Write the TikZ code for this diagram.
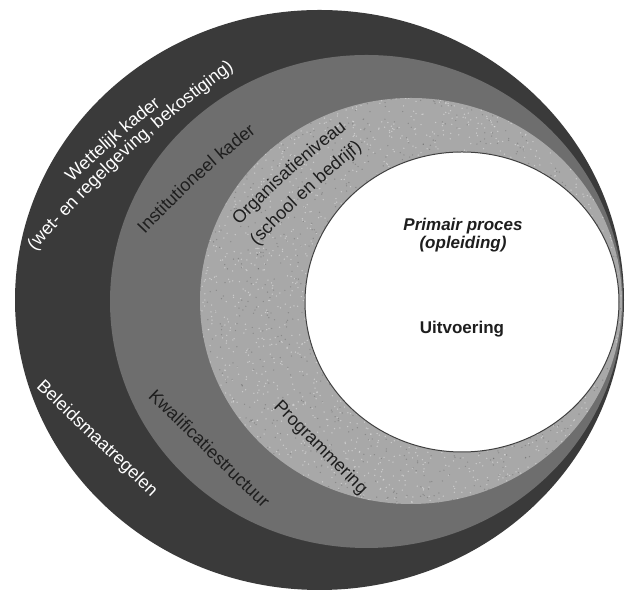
\documentclass[tikz,border=0pt]{standalone}
\usepackage{fontspec}
\setmainfont{Liberation Sans}
\usetikzlibrary{decorations.text}
\definecolor{darkband}{RGB}{58,58,58}
\definecolor{midband}{RGB}{110,110,110}
\definecolor{lightband}{RGB}{168,168,168}
\definecolor{inktext}{RGB}{30,30,30}
\newcommand\bandfont{\fontsize{18}{22}\selectfont}
\begin{document}
\begin{tikzpicture}[x=1pt,y=1pt,
  whitetext/.style={decorate, decoration={text along path, text color=white, text align=center, text={|\bandfont|#1}}},
  blacktext/.style={decorate, decoration={text along path, text color=inktext, text align=center, text={|\bandfont|#1}}},
  bandlabel/.style={font=\bandfont, anchor=base, inner sep=0pt},
  centertext/.style={text=inktext, align=center, inner sep=0pt}
]
\useasboundingbox (0,0) rectangle (625,593);
\fill[white] (0,0) rectangle (625,593);

% nested ellipses
\fill[darkband]  (319.5,293) ellipse[x radius=304.5, y radius=290];
\fill[midband]   (366.5,291.5) ellipse[x radius=256.5, y radius=246.5];
\fill[lightband] (411,292) ellipse[x radius=211, y radius=203];

% speckle of the light band
\begin{scope}
  \clip (411,292) ellipse[x radius=211, y radius=203];
  \pgfmathsetseed{7}
  \foreach \i in {1,...,2600}{
    \pgfmathsetmacro\px{200+422*rnd}
    \pgfmathsetmacro\py{89+406*rnd}
    \fill[white,opacity=0.4] (\px,\py) circle[radius=0.75];
  }
  \foreach \i in {1,...,1400}{
    \pgfmathsetmacro\px{200+422*rnd}
    \pgfmathsetmacro\py{89+406*rnd}
    \fill[black,opacity=0.18] (\px,\py) circle[radius=0.7];
  }
\end{scope}

\filldraw[fill=white, draw=black!75, line width=1pt] (462,291) ellipse[x radius=157, y radius=150];

% outer band texts
\path[whitetext={Wettelijk kader}] (67.7,406.1) to[bend left=3] (165.9,491.3);
\path[whitetext={(wet- en regelgeving, bekostiging)}] (30.8,337.2) to[bend left=6] (239.0,527.4);
\node[bandlabel, text=white, rotate=-43.6] (beleid) at (93.5,150.6) {Beleidsmaatregelen};

% middle band texts
\path[blacktext={Institutioneel kader}] (140.8,354.2) to[bend left=4] (261.0,464.4);
\node[bandlabel, text=inktext, rotate=-44.1] (kwalificatie) at (205.2,139.8) {Kwalificatiestructuur};

% light band texts
\path[blacktext={Organisatieniveau}] (235.2,362.8) to[bend left=4] (351.8,467.8);
\path[blacktext={(school en bedrijf)}] (253.2,342.6) to[bend left=4] (367.2,447.6);
\node[bandlabel, text=inktext, rotate=-45] (programmering) at (317,141.7) {Programmering};

% inner texts
\node[centertext, font=\fontsize{17}{18.5}\selectfont\bfseries\itshape] (primair) at (463,358) {Primair proces\\(opleiding)};
\node[centertext, font=\fontsize{17}{20}\selectfont\bfseries] (uitvoering) at (462,264) {Uitvoering};
\end{tikzpicture}
\end{document}
